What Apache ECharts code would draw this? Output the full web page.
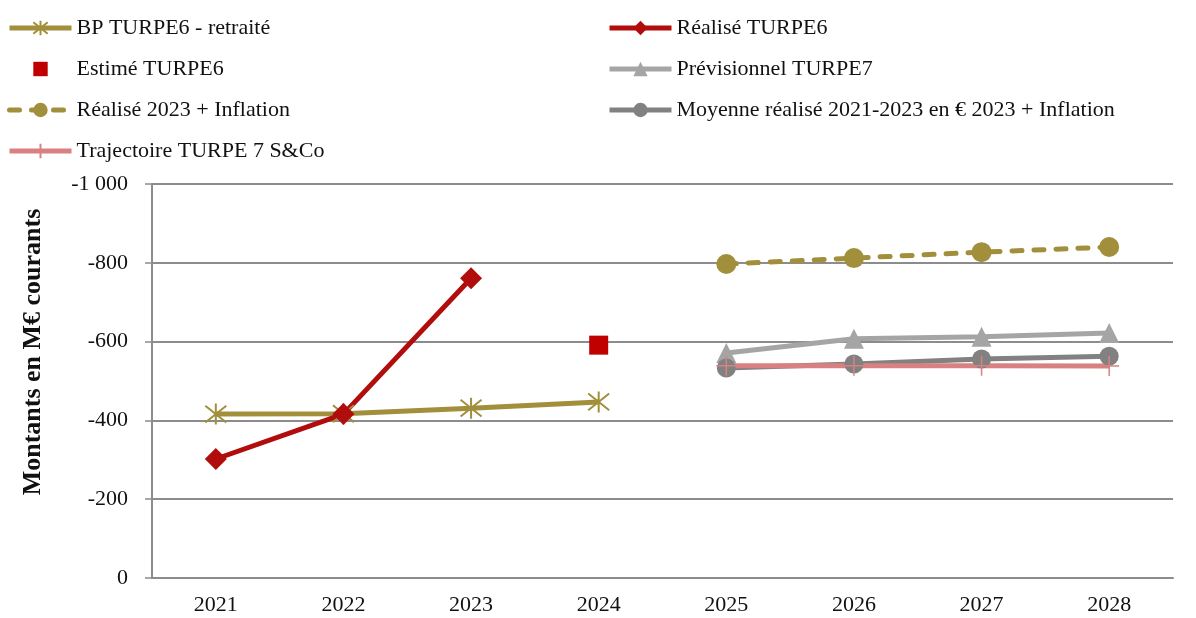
<!DOCTYPE html>
<html>
<head>
<meta charset="utf-8">
<script src="https://cdn.jsdelivr.net/npm/echarts@6/dist/echarts.min.js"></script>
<style>
  html, body { margin: 0; padding: 0; background: #fff; }
  #main { width: 1196px; height: 618px; }
</style>
</head>
<body>
<div id="main"></div>
<script>
// data (M€ courants, negative values)
let years = ['2021', '2022', '2023', '2024', '2025', '2026', '2027', '2028'];
let bpTurpe6 = [-416, -417, -431, -447, null, null, null, null];
let realiseTurpe6 = [-302, -416, -761, null, null, null, null, null];
let estimeTurpe6 = [null, null, null, -591, null, null, null, null];
let realise2023Infl = [null, null, null, null, -797, -812, -827, -840];
let previsionnelTurpe7 = [null, null, null, null, -571, -607, -612, -622];
let moyenneRealise = [null, null, null, null, -533, -543, -556, -563];
let trajectoireSCo = [null, null, null, null, -539, -539, -539, -538];

let font = '"Liberation Serif", "DejaVu Serif", serif';
let gold = '#a28f3c';
let red = '#b20d0d';
let pink = '#d98181';

let app = {};

app.fmt = function (v) {
    return String(v).replace(/\B(?=(\d{3})+(?!\d))/g, ' ');
};

// legend boxes, same look for both columns
app.legend = function (left, names) {
    return {
        orient: 'vertical',
        left: left,
        top: 17,
        padding: 0,
        itemWidth: 62,
        itemHeight: 18,
        itemGap: 19,
        lineStyle: { width: 5 },
        textStyle: { fontFamily: font, fontSize: 22, color: '#111', lineHeight: 22 },
        data: names
    };
};

let myChart = echarts.init(document.getElementById('main'));

let option = {
    animation: false,
    textStyle: { fontFamily: font },
    legend: [
        app.legend(7, ['BP TURPE6 - retraité', 'Estimé TURPE6', 'Réalisé 2023 + Inflation', 'Trajectoire TURPE 7 S&Co']),
        app.legend(607, ['Réalisé TURPE6', 'Prévisionnel TURPE7', 'Moyenne réalisé 2021-2023 en € 2023 + Inflation'])
    ],
    grid: { left: 152, right: 23, top: 184, bottom: 40 },
    graphic: [{
        type: 'text',
        x: 33,
        y: 352,
        rotation: Math.PI / 2,
        style: {
            text: 'Montants en M€ courants',
            fontFamily: font,
            fontSize: 26,
            fontWeight: 'bold',
            fill: '#111',
            align: 'center',
            verticalAlign: 'middle'
        }
    }],
    xAxis: {
        type: 'category',
        data: years,
        boundaryGap: true,
        axisLine: { lineStyle: { color: '#8c8c8c', width: 2 } },
        axisTick: { inside: true, length: 6, interval: 0, lineStyle: { color: '#8c8c8c', width: 1.5 } },
        axisLabel: { fontFamily: font, fontSize: 22, color: '#111', margin: 16 }
    },
    yAxis: {
        type: 'value',
        inverse: true,
        min: -1000,
        max: 0,
        interval: 200,
        axisLine: { show: true, lineStyle: { color: '#8c8c8c', width: 2 } },
        axisTick: { show: true, length: 7, lineStyle: { color: '#8c8c8c', width: 1.5 } },
        axisLabel: { fontFamily: font, fontSize: 22, color: '#111', margin: 24, formatter: app.fmt },
        splitLine: { lineStyle: { color: '#8c8c8c', width: 2 } }
    },
    series: [{
        name: 'BP TURPE6 - retraité',
        type: 'line',
        data: bpTurpe6,
        symbol: 'path://M10 0 L10 20 M1 2 L19 18 M1 18 L19 2',
        symbolSize: 21,
        lineStyle: { color: gold, width: 5 },
        itemStyle: { color: 'rgba(0,0,0,0)', borderColor: gold, borderWidth: 2 }
    }, {
        name: 'Réalisé TURPE6',
        type: 'line',
        data: realiseTurpe6,
        symbol: 'diamond',
        symbolSize: 22,
        lineStyle: { color: red, width: 5 },
        itemStyle: { color: red }
    }, {
        name: 'Estimé TURPE6',
        type: 'line',
        data: estimeTurpe6,
        symbol: 'rect',
        symbolSize: 19,
        lineStyle: { color: '#c00000', width: 0, opacity: 0 },
        itemStyle: { color: '#c00000' }
    }, {
        name: 'Réalisé 2023 + Inflation',
        type: 'line',
        data: realise2023Infl,
        symbol: 'circle',
        symbolSize: 20,
        lineStyle: { color: gold, width: 5, type: [10, 12], cap: 'round' },
        itemStyle: { color: gold }
    }, {
        name: 'Prévisionnel TURPE7',
        type: 'line',
        data: previsionnelTurpe7,
        symbol: 'triangle',
        symbolSize: 20,
        lineStyle: { color: '#a5a5a5', width: 5 },
        itemStyle: { color: '#a5a5a5' }
    }, {
        name: 'Moyenne réalisé 2021-2023 en € 2023 + Inflation',
        type: 'line',
        data: moyenneRealise,
        symbol: 'circle',
        symbolSize: 19,
        lineStyle: { color: '#818181', width: 5 },
        itemStyle: { color: '#818181' }
    }, {
        name: 'Trajectoire TURPE 7 S&Co',
        type: 'line',
        z: 3,
        data: trajectoireSCo,
        symbol: 'path://M0 10 L20 10 M10 0 L10 20',
        symbolSize: 20,
        lineStyle: { color: pink, width: 5 },
        itemStyle: { color: 'rgba(0,0,0,0)', borderColor: pink, borderWidth: 1.5 }
    }]
};

myChart.setOption(option);
</script>
</body>
</html>
